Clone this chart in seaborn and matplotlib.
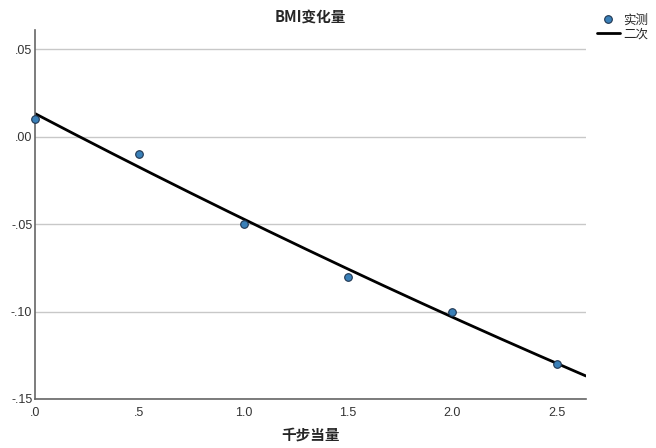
import numpy as np
import pandas as pd
import matplotlib
matplotlib.use("Agg")
import matplotlib.pyplot as plt
import seaborn as sns
from matplotlib.lines import Line2D
from matplotlib.ticker import FixedLocator, FuncFormatter

# Observed data
steps = [0.0, 0.5, 1.0, 1.5, 2.0, 2.5]          # 千步当量
bmi_change = [0.01, -0.01, -0.05, -0.08, -0.10, -0.13]  # BMI变化量
y_ticks = [-0.15, -0.10, -0.05, 0.00, 0.05]
x_ticks = [0.0, 0.5, 1.0, 1.5, 2.0, 2.5]

sns.set_style("white")
plt.rcParams["font.family"] = ["Liberation Sans", "Noto Sans CJK SC", "DejaVu Sans"]

df = pd.DataFrame({"x": steps, "y": bmi_change})

# Quadratic fit curve
coef = np.polyfit(df["x"], df["y"], 2)
xs = np.linspace(0, 2.64, 200)
fit = pd.DataFrame({"x": xs, "y": np.polyval(coef, xs)})

fig = plt.figure(figsize=(6.56, 4.48), dpi=100)
ax = fig.add_axes([0.0534, 0.1094, 0.8399, 0.8236])

for t in y_ticks:
    ax.axhline(t, color="#c8c8c8", lw=1.0, zorder=0)

sns.lineplot(data=fit, x="x", y="y", ax=ax, color="black", lw=2.0, zorder=2)
sns.scatterplot(data=df, x="x", y="y", ax=ax, s=30, color="#3a80b8",
                edgecolor="#1f3550", linewidth=0.8, zorder=3, clip_on=False)

ax.set_xlim(0, 2.64)
ax.set_ylim(-0.15, 0.061)

def spss_fmt(v, pos, nd):
    s = f"{v:.{nd}f}"
    if s.startswith("0."):
        s = s[1:]
    elif s.startswith("-0."):
        s = "-" + s[2:]
    return s

ax.xaxis.set_major_locator(FixedLocator(x_ticks))
ax.yaxis.set_major_locator(FixedLocator(y_ticks))
ax.xaxis.set_major_formatter(FuncFormatter(lambda v, p: spss_fmt(v, p, 1)))
ax.yaxis.set_major_formatter(FuncFormatter(lambda v, p: spss_fmt(v, p, 2)))
ax.tick_params(axis="both", length=0, labelsize=9, labelcolor="#333333")
ax.tick_params(axis="x", pad=6)
ax.tick_params(axis="y", pad=2)

for side in ["top", "right"]:
    ax.spines[side].set_visible(False)
for side in ["left", "bottom"]:
    ax.spines[side].set_color("#666666")
    ax.spines[side].set_linewidth(1.2)

ax.set_xlabel("千步当量", fontsize=10.5, fontweight="bold",
              family=["Noto Sans CJK SC", "DejaVu Sans"], labelpad=5)
ax.set_ylabel("")
ax.set_title("BMI变化量", fontsize=10.5, fontweight="bold",
             family=["Noto Sans CJK SC", "DejaVu Sans"], pad=6)

handles = [
    Line2D([], [], marker="o", ls="none", markersize=5.5,
           markerfacecolor="#3a80b8", markeredgecolor="#1f3550", markeredgewidth=0.8),
    Line2D([], [], color="black", lw=2.0),
]
fig.legend(handles, ["实测", "二次"], loc="upper left", bbox_to_anchor=(0.893, 0.995),
           frameon=False, handlelength=1.8, handletextpad=0.3,
           labelspacing=0.1, prop={"family": ["Noto Sans CJK SC"], "size": 9})

fig.savefig("out.png", dpi=100)
